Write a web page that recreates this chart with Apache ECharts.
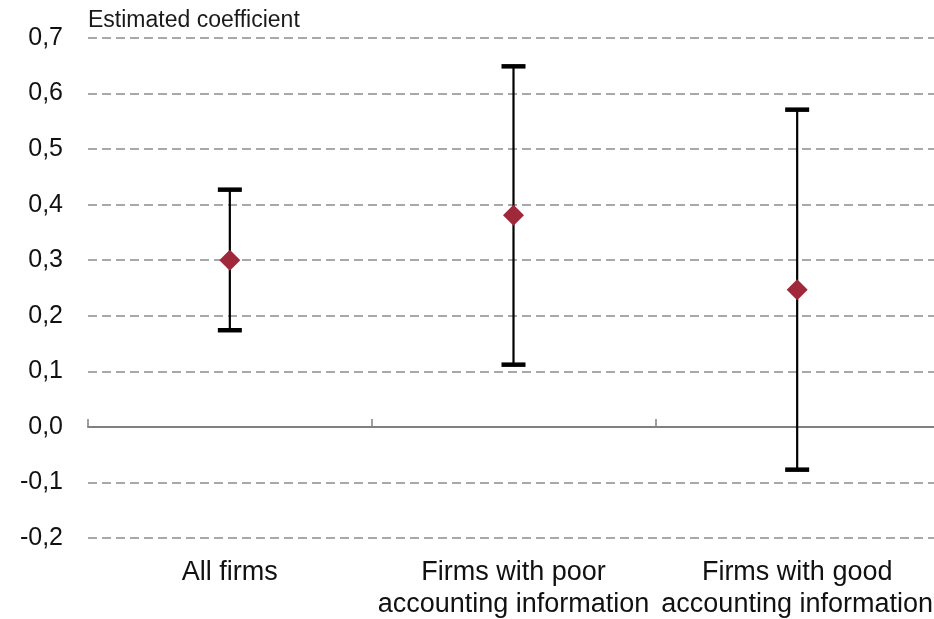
<!DOCTYPE html>
<html>
<head>
<meta charset="utf-8">
<script src="https://cdn.jsdelivr.net/npm/echarts@6/dist/echarts.min.js"></script>
<style>
  html, body { margin: 0; padding: 0; background: #ffffff; }
  #chart { width: 934px; height: 619px; }
</style>
</head>
<body>
<div id="chart"></div>
<script>
// Point estimates with their confidence bounds, one per firm group
const categories = ['All firms', 'Firms with poor\naccounting information', 'Firms with good\naccounting information'];
const estimates = [0.300, 0.381, 0.247];
const lowerBounds = [0.174, 0.112, -0.077];
const upperBounds = [0.427, 0.649, 0.571];
const yMin = -0.2;
const yMax = 0.7;
const yStep = 0.1;

const FONT = 'Liberation Sans, Arial, sans-serif';

const errorData = categories.map((c, i) => [i, lowerBounds[i], upperBounds[i]]);
const pointData = categories.map((c, i) => [i, estimates[i]]);

const chart = echarts.init(document.getElementById('chart'), null, { renderer: 'canvas' });

chart.setOption({
  animation: false,
  backgroundColor: '#ffffff',
  textStyle: { fontFamily: FONT },
  grid: { left: 88, width: 851, top: 38, bottom: 81, containLabel: false, outerBoundsMode: 'none' },
  title: {
    text: 'Estimated coefficient',
    left: 88, top: 9, padding: 0,
    textStyle: { fontFamily: FONT, fontSize: 23, fontWeight: 'normal', color: '#1a1a1a' }
  },
  xAxis: [
    {
      type: 'category',
      data: categories,
      position: 'bottom',
      axisLine: { show: false, onZero: false },
      axisTick: { show: false },
      splitLine: { show: false },
      axisLabel: {
        interval: 0,
        margin: 19,
        fontFamily: FONT,
        fontSize: 27,
        lineHeight: 32,
        color: '#111111'
      }
    },
    {
      type: 'category',
      data: categories,
      position: 'bottom',
      axisLine: { show: true, onZero: true, lineStyle: { color: '#808080', width: 2 } },
      axisTick: { show: true, inside: true, length: 8, lineStyle: { color: '#808080', width: 1.5 } },
      axisLabel: { show: false },
      splitLine: { show: false }
    }
  ],
  yAxis: {
    type: 'value',
    min: yMin,
    max: yMax,
    interval: yStep,
    axisLine: { show: false },
    axisTick: { show: false },
    axisLabel: {
      margin: 25,
      fontFamily: FONT,
      fontSize: 25,
      color: '#111111',
      formatter: v => v.toFixed(1).replace('.', ',')
    },
    splitLine: {
      show: true,
      lineStyle: { color: '#a8a8a8', width: 2, type: [9, 5] }
    }
  },
  series: [
    {
      name: 'interval',
      type: 'custom',
      xAxisIndex: 0,
      data: errorData,
      z: 3,
      renderItem: function (params, api) {
        const idx = api.value(0);
        const lo = api.coord([idx, api.value(1)]);
        const hi = api.coord([idx, api.value(2)]);
        const half = 12;
        const capH = 4.5;
        return {
          type: 'group',
          children: [
            {
              type: 'line',
              shape: { x1: lo[0], y1: lo[1], x2: hi[0], y2: hi[1] },
              style: { stroke: '#000000', lineWidth: 2.2 }
            },
            {
              type: 'rect',
              shape: { x: hi[0] - half, y: hi[1] - capH / 2, width: half * 2, height: capH },
              style: { fill: '#000000' }
            },
            {
              type: 'rect',
              shape: { x: lo[0] - half, y: lo[1] - capH / 2, width: half * 2, height: capH },
              style: { fill: '#000000' }
            }
          ]
        };
      }
    },
    {
      name: 'estimate',
      type: 'scatter',
      xAxisIndex: 0,
      data: pointData,
      symbol: 'diamond',
      symbolSize: [21, 21],
      z: 4,
      itemStyle: { color: '#a0283b', opacity: 1 }
    }
  ]
});
</script>
</body>
</html>
